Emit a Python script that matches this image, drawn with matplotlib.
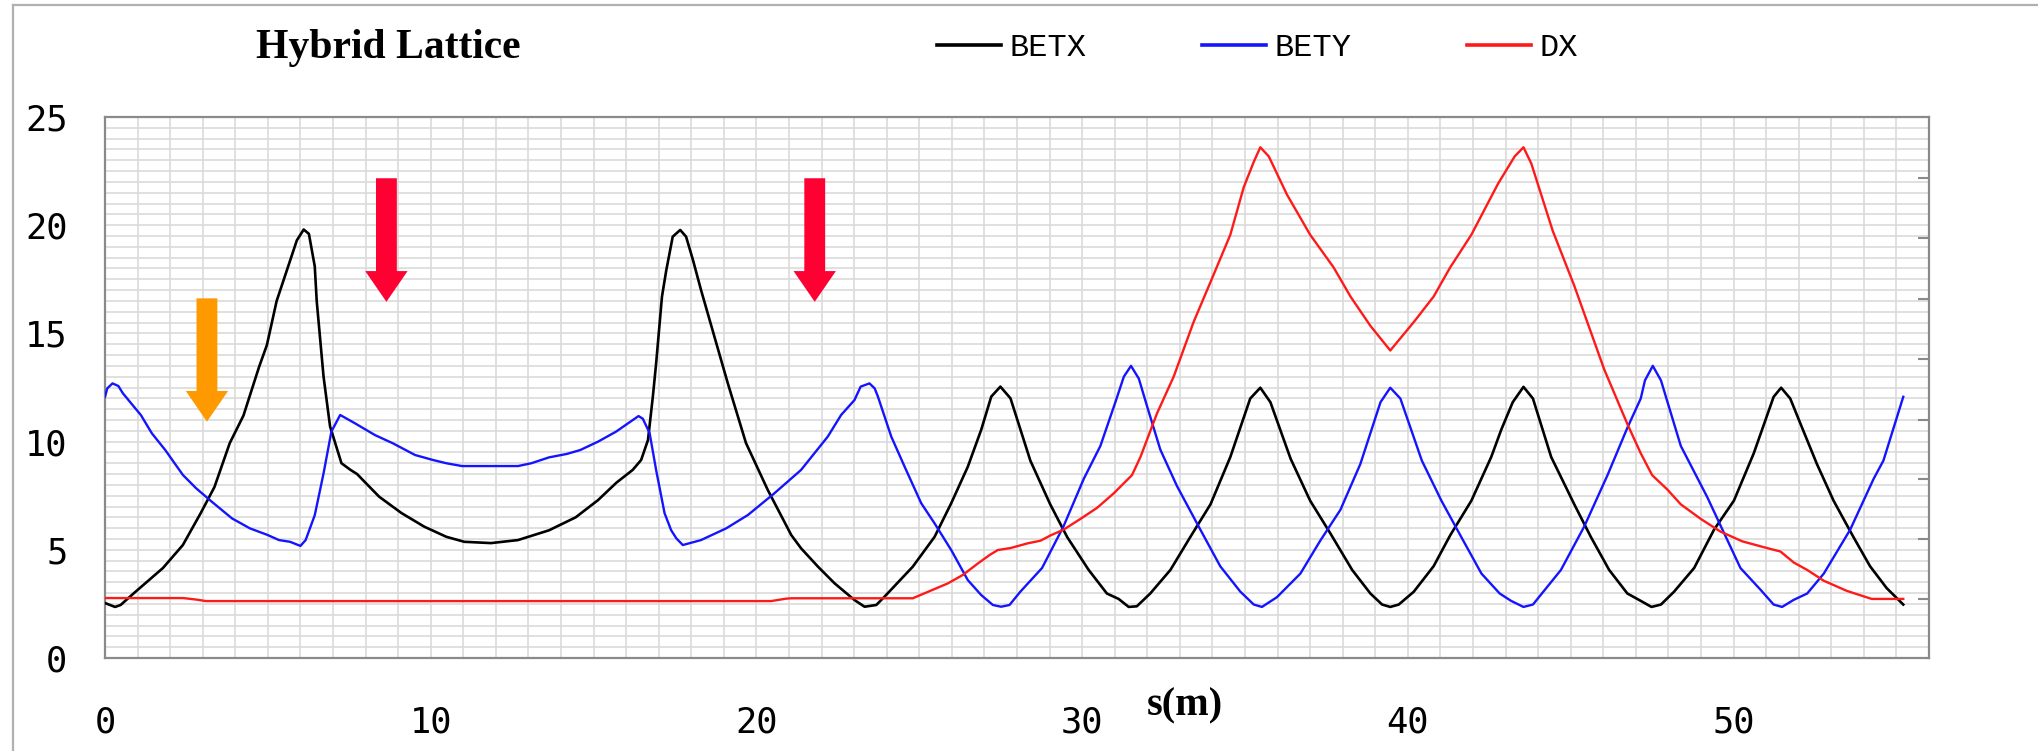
import matplotlib
matplotlib.use('Agg')
import matplotlib.pyplot as plt
from matplotlib.lines import Line2D
from matplotlib.ticker import MultipleLocator

# ---------------- data ----------------
betx_s = [0, 0.31, 0.48, 0.89, 1.78, 2.39, 2.94, 3.36, 3.83, 4.25, 4.73, 4.97,
          5.27, 5.89, 6.1, 6.26, 6.44, 6.5, 6.71, 6.91, 7.26, 7.53, 7.74, 8.01,
          8.42, 9.1, 9.8, 10.48, 11.03, 11.85, 12.68, 13.63, 14.45, 15.14, 15.7,
          16.2, 16.46, 16.67, 16.82, 16.92, 17.1, 17.23, 17.43, 17.66, 17.84,
          18.05, 18.3, 18.71, 19.12, 19.68, 20.35, 21.07, 21.37, 21.89, 22.4,
          23.01, 23.32, 23.68, 23.93, 24.8, 25.47, 25.98, 26.49, 26.9, 27.21,
          27.49, 27.8, 28.41, 29.02, 29.54, 30.2, 30.76, 31.12, 31.43, 31.68,
          32.09, 32.71, 33.32, 33.94, 34.55, 35.16, 35.47, 35.78, 36.4, 37.0,
          37.62, 38.29, 38.85, 39.21, 39.46, 39.72, 40.18, 40.79, 41.3, 41.95,
          42.56, 42.87, 43.22, 43.55, 43.84, 44.4, 45.11, 45.62, 46.18, 46.74,
          47.15, 47.48, 47.77, 48.17, 48.79, 49.4, 50.01, 50.62, 51.23, 51.46,
          51.74, 52.15, 52.56, 53.07, 53.68, 54.19, 54.7, 55.21]
betx_v = [2.54, 2.36, 2.45, 3.0, 4.16, 5.22, 6.7, 7.9, 9.93, 11.2, 13.45, 14.46,
          16.5, 19.3, 19.8, 19.6, 18.1, 16.5, 13.0, 10.7, 9.0, 8.7, 8.5, 8.08,
          7.45, 6.7, 6.07, 5.6, 5.37, 5.31, 5.45, 5.9, 6.5, 7.3, 8.1,
          8.69, 9.15, 10.07, 12.08, 13.6, 16.7, 17.9, 19.47, 19.78, 19.47,
          18.4, 17.0, 14.85, 12.7, 9.93, 7.76, 5.68, 5.07, 4.22, 3.45,
          2.68, 2.37, 2.45, 2.83, 4.22, 5.6, 7.15, 8.84, 10.54, 12.08,
          12.54, 12.0, 9.12, 7.1, 5.59, 4.07, 2.98, 2.73, 2.36, 2.39,
          2.98, 4.07, 5.59, 7.1, 9.29, 11.99, 12.49, 11.82, 9.21, 7.27,
          5.76, 4.07, 2.98, 2.47, 2.36, 2.47, 3.06, 4.24, 5.67, 7.27,
          9.29, 10.56, 11.82, 12.53, 11.99, 9.29, 7.1, 5.59, 4.07, 2.98,
          2.64, 2.36, 2.47, 3.06, 4.16, 5.93, 7.27, 9.46, 12.07, 12.49,
          11.99, 10.47, 8.96, 7.27, 5.59, 4.24, 3.23, 2.47]

bety_s = [0, 0.07, 0.23, 0.41, 0.55, 0.89, 1.1, 1.44, 1.85, 2.39, 2.8, 3.28,
          3.9, 4.45, 5.0, 5.34, 5.68, 6.0, 6.16, 6.44, 6.71, 6.95, 7.22, 7.67,
          8.29, 8.84, 9.52, 10.07, 10.48, 10.96, 11.85, 12.68, 13.09, 13.63,
          14.18, 14.59, 15.14, 15.69, 16.38, 16.51, 16.72, 16.92, 17.18, 17.38,
          17.54, 17.74, 18.3, 19.07, 19.74, 20.55, 21.37, 22.19, 22.6, 23.01,
          23.2, 23.47, 23.63, 23.73, 24.14, 24.55, 25.06, 25.47, 25.98, 26.49,
          26.9, 27.26, 27.51, 27.77, 28.1, 28.77, 29.43, 30.05, 30.56, 31.02,
          31.28, 31.5, 31.74, 31.99, 32.4, 32.91, 33.63, 34.24, 34.86, 35.27,
          35.52, 35.98, 36.7, 37.31, 37.93, 38.54, 39.16, 39.46, 39.77, 40.43,
          41.03, 41.64, 42.26, 42.82, 43.17, 43.55, 43.84, 44.7, 45.42, 46.13,
          46.74, 47.15, 47.28, 47.52, 47.77, 48.38, 49.19, 50.21, 50.83, 51.23,
          51.49, 51.85, 52.26, 52.77, 53.58, 54.3, 54.6, 55.21]
bety_v = [12.07, 12.46, 12.69, 12.57, 12.23, 11.61, 11.23, 10.38, 9.61, 8.46, 7.84, 7.22,
          6.45, 5.99, 5.68, 5.45, 5.37, 5.18, 5.45, 6.6, 8.53, 10.46, 11.23, 10.85,
          10.3, 9.92, 9.38, 9.15, 9.0, 8.87, 8.87, 8.87, 9.0, 9.27,
          9.43, 9.61, 10.0, 10.46, 11.18, 11.06, 10.4, 8.69, 6.69, 5.91,
          5.53, 5.22, 5.45, 5.99, 6.61, 7.61, 8.69, 10.23, 11.23, 11.92,
          12.54, 12.69, 12.46, 12.08, 10.23, 8.84, 7.15, 6.22, 4.99, 3.6,
          2.91, 2.45, 2.37, 2.45, 3.06, 4.16, 6.09, 8.28, 9.8, 11.82,
          13.0, 13.5, 12.91, 11.65, 9.63, 7.95, 5.93, 4.24, 3.06, 2.47,
          2.36, 2.81, 3.9, 5.42, 6.85, 8.96, 11.82, 12.49, 11.99, 9.12,
          7.27, 5.59, 3.9, 2.98, 2.64, 2.36, 2.47, 4.07, 6.09, 8.45,
          10.64, 11.99, 12.83, 13.5, 12.83, 9.8, 7.44, 4.16, 3.15, 2.47,
          2.36, 2.69, 2.98, 3.9, 5.93, 8.28, 9.12, 12.07]

dx_s = [0, 2.4, 2.8, 3.1, 20.45, 20.9, 21.07, 24.8, 25.16, 25.88, 26.34, 26.8,
        27.16, 27.41, 27.8, 28.33, 28.72, 29.05, 29.43, 29.95, 30.46, 30.97,
        31.53, 31.79, 32.3, 32.81, 33.42, 33.94, 34.55, 34.96, 35.27, 35.47,
        35.73, 36.29, 37.0, 37.72, 38.24, 38.85, 39.46, 40.18, 40.79, 41.3,
        41.95, 42.77, 43.28, 43.55, 43.79, 44.45, 45.11, 46.03, 46.74, 47.15,
        47.5, 47.97, 48.38, 48.99, 49.6, 50.27, 50.93, 51.44, 51.85, 52.26,
        52.77, 53.48, 54.24, 55.21]
dx_v = [2.77, 2.77, 2.7, 2.63, 2.63, 2.74, 2.76, 2.76, 2.99, 3.45, 3.84, 4.37,
        4.76, 4.99, 5.08, 5.3, 5.42, 5.68, 5.93, 6.43, 6.94, 7.61,
        8.45, 9.29, 11.31, 13.0, 15.52, 17.37, 19.56, 21.75, 22.93, 23.6,
        23.18, 21.41, 19.56, 18.05, 16.7, 15.35, 14.21, 15.52, 16.7, 18.05,
        19.56, 21.92, 23.18, 23.6, 22.85, 19.73, 17.2, 13.33, 10.81, 9.46,
        8.45, 7.78, 7.1, 6.43, 5.84, 5.39, 5.12, 4.92, 4.41, 4.07,
        3.57, 3.1, 2.73, 2.73]

series_labels = ['BETX', 'BETY', 'DX']
series_colors = ['#000000', '#1414ff', '#ff1a1a']

# arrows: (x position, top, tip) in data units
arrow_x = [3.13, 8.64, 21.79]
arrow_top = [16.62, 22.17, 22.17]
arrow_tip = [10.92, 16.46, 16.46]
arrow_colors = ['#ff9900', '#ff0033', '#ff0033']

right_ticks = [2.73, 5.5, 8.25, 11.02, 13.8, 16.6, 19.4, 22.2]

# ---------------- figure ----------------
W, H = 2038, 751
fig = plt.figure(figsize=(W / 100, H / 100), dpi=100)
L, R, T, B = 105, 1929, 117, 658
ax = fig.add_axes([L / W, 1 - B / H, (R - L) / W, (B - T) / H])

ax.plot(betx_s, betx_v, color=series_colors[0], lw=1.9, label=series_labels[0], zorder=3)
ax.plot(bety_s, bety_v, color=series_colors[1], lw=1.7, label=series_labels[1], zorder=3)
ax.plot(dx_s, dx_v, color=series_colors[2], lw=1.7, label=series_labels[2], zorder=3)

for xa, yt, ytip, c in zip(arrow_x, arrow_top, arrow_tip, arrow_colors):
    hl = 1.42
    ax.arrow(xa, yt, 0, ytip - yt, width=0.64, head_width=1.3, head_length=hl,
             length_includes_head=True, color=c, lw=0, zorder=5)

ax.set_xlim(0, 56)
ax.set_ylim(0, 25)
ax.xaxis.set_major_locator(MultipleLocator(10))
ax.xaxis.set_minor_locator(MultipleLocator(1))
ax.yaxis.set_major_locator(MultipleLocator(5))
ax.yaxis.set_minor_locator(MultipleLocator(0.5))
ax.grid(which='both', color='#dadada', lw=1.2)
ax.set_axisbelow(True)
ax.tick_params(which='both', length=0)
ax.tick_params(axis='x', pad=34, labelsize=25.5)
ax.tick_params(axis='y', pad=27, labelsize=25.5)
for lab in ax.get_xticklabels() + ax.get_yticklabels():
    lab.set_fontfamily('DejaVu Sans Mono')
for sp in ax.spines.values():
    sp.set_color('#8a8a8a')
    sp.set_linewidth(1.6)

ax2 = ax.twinx()
ax2.set_ylim(0, 25)
ax2.set_yticks(right_ticks)
ax2.tick_params(axis='y', direction='in', length=8, width=1.5, color='#8a8a8a',
                labelright=False)
for sp in ax2.spines.values():
    sp.set_visible(False)

ax.set_xlabel('s(m)', fontsize=29, fontweight='bold', family='Liberation Serif')
ax.xaxis.set_label_coords((1185 - L) / (R - L), (B - 706) / (B - T))
ax.xaxis.label.set_va('center')

fig.text(388 / W, 1 - 58 / H, 'Hybrid Lattice', ha='center', va='baseline',
         fontsize=30, fontweight='bold', family='Liberation Serif')

leg = ax.legend(loc='center left', bbox_to_anchor=(937 / W, 1 - 48 / H),
                bbox_transform=fig.transFigure, ncol=3, frameon=False,
                handlelength=2.0, handletextpad=0.28, columnspacing=3.6,
                borderpad=0, borderaxespad=0,
                prop={'family': 'Liberation Mono', 'size': 23})
for h in leg.get_lines():
    h.set_linewidth(2.6)

# outer frame (top and left edges visible)
fig.add_artist(Line2D([13 / W, 1], [1 - 5 / H, 1 - 5 / H], transform=fig.transFigure,
                      color='#b0b0b0', lw=1.6))
fig.add_artist(Line2D([13 / W, 13 / W], [0, 1 - 5 / H], transform=fig.transFigure,
                      color='#b0b0b0', lw=1.6))

fig.savefig('out.png', dpi=100)
